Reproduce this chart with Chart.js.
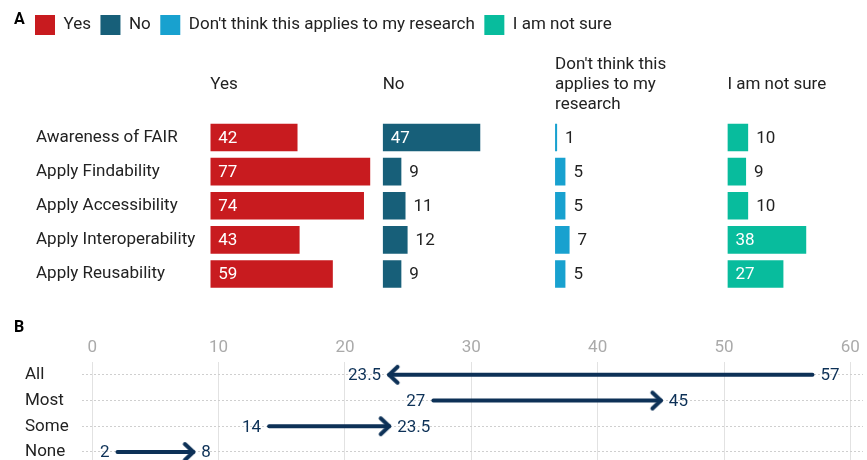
<!DOCTYPE html>
<html>
<head>
<meta charset="utf-8">
<script src="https://cdn.jsdelivr.net/npm/chart.js@4.4.1/dist/chart.umd.min.js"></script>
<style>
    html, body { margin: 0; padding: 0; background: #fff; }
    #page { position: relative; width: 867px; height: 460px; overflow: hidden; }
    #chartA { position: absolute; left: 0; top: 0; }
    #chartB { position: absolute; left: 0; top: 310px; }
</style>
</head>
<body>
<div id="page">
    <canvas id="chartA" width="867" height="310"></canvas>
    <canvas id="chartB" width="867" height="165"></canvas>
</div>
<script>
// panel A data
const rowsA = ['Awareness of FAIR', 'Apply Findability', 'Apply Accessibility', 'Apply Interoperability', 'Apply Reusability'];
const seriesNames = ['Yes', 'No', "Don't think this applies to my research", 'I am not sure'];
const panelTitles = [['Yes'], ['No'], ["Don't think this", 'applies to my', 'research'], ['I am not sure']];
const yesValues = [42, 77, 74, 43, 59];
const noValues = [47, 9, 11, 12, 9];
const notApplyValues = [1, 5, 5, 7, 5];
const notSureValues = [10, 9, 10, 38, 27];

// panel B data
const rowsB = ['All', 'Most', 'Some', 'None'];
const fromB = [57, 27, 14, 2];
const toB = [23.5, 45, 23.5, 8];
const ticksB = [0, 10, 20, 30, 40, 50, 60];

const colors = ['#c81b1f', '#175f79', '#18a1cf', '#08bc9d'];
const navy = '#0d3157';
const textColor = '#222';
const fontSize = 17;

Chart.defaults.font.family = 'Roboto, "Noto Sans", sans-serif';
Chart.defaults.font.size = fontSize;
Chart.defaults.color = textColor;

const panelLetter = {
    id: 'panelLetter',
    afterDraw(chart, args, opts) {
        const c = chart.ctx;
        c.save();
        c.font = 'bold 16px Roboto, sans-serif';
        c.fillStyle = '#000';
        c.textBaseline = 'alphabetic';
        c.fillText(opts.text, opts.x, opts.y);
        c.restore();
    },
};

// value labels: inside the bar in white when it is wide enough, otherwise after it
const barValues = {
    id: 'barValues',
    afterDatasetsDraw(chart) {
        const c = chart.ctx;
        c.save();
        c.font = fontSize + 'px Roboto, sans-serif';
        c.textBaseline = 'middle';
        c.textAlign = 'left';
        chart.data.datasets.forEach((ds, i) => {
            chart.getDatasetMeta(i).data.forEach((bar, j) => {
                const v = ds.data[j];
                if (v >= 20) {
                    c.fillStyle = '#fff';
                    c.fillText(v, bar.base + 8, bar.y + 1);
                } else {
                    c.fillStyle = textColor;
                    c.fillText(v, bar.x + 8, bar.y + 1);
                }
            });
        });
        c.restore();
    },
};

const panelValues = [yesValues, noValues, notApplyValues, notSureValues];
const panelMax = [83, 83, 83, 67.3];
const panelWeight = [172, 172, 172, 139.3];

const scalesA = {
    ypad: {
        type: 'linear',
        position: 'left',
        weight: 10,
        ticks: { display: false },
        grid: { display: false, drawTicks: false },
        border: { display: false },
        afterFit(s) { s.width = 10.5; },
    },
    y: {
        type: 'category',
        position: 'left',
        offset: true,
        ticks: { crossAlign: 'far', color: textColor, padding: 0 },
        grid: { display: false, drawTicks: false },
        border: { display: false },
        afterFit(s) { s.width = 174.3; },
    },
};

panelTitles.forEach((title, i) => {
    scalesA['x' + i] = {
        type: 'linear',
        position: 'top',
        stack: 'panels',
        stackWeight: panelWeight[i],
        weight: 3 - i,
        min: 0,
        max: panelMax[i],
        ticks: { display: false },
        grid: { display: false, drawTicks: false },
        border: { display: false },
        title: {
            display: true,
            text: title,
            align: 'start',
            color: textColor,
            font: { size: fontSize, lineHeight: 20 / fontSize },
            padding: { top: title.length > 1 ? 10 : 30, bottom: 15.5 },
        },
    };
});

new Chart(document.getElementById('chartA'), {
    type: 'bar',
    data: {
        labels: rowsA,
        datasets: panelValues.map((values, i) => ({
            label: seriesNames[i],
            data: values,
            xAxisID: 'x' + i,
            yAxisID: 'y',
            backgroundColor: colors[i],
            barPercentage: 0.81,
            categoryPercentage: 1,
            grouped: false,
        })),
    },
    options: {
        indexAxis: 'y',
        responsive: false,
        animation: false,
        events: [],
        layout: { padding: { left: 25.5, top: 5.5, right: 0, bottom: 19 } },
        scales: scalesA,
        plugins: {
            legend: {
                position: 'top',
                align: 'start',
                labels: {
                    boxWidth: 20,
                    boxHeight: 20,
                    padding: 9.5,
                    color: textColor,
                    font: { size: fontSize },
                },
            },
            tooltip: { enabled: false },
            panelLetter: { text: 'A', x: 14, y: 23.5 },
        },
    },
    plugins: [panelLetter, barValues],
});

// chevron used as the arrow head
const head = document.createElement('canvas');
head.width = 28;
head.height = 28;
(() => {
    const h = head.getContext('2d');
    h.strokeStyle = navy;
    h.lineWidth = 4;
    h.lineCap = 'round';
    h.lineJoin = 'round';
    h.beginPath();
    h.moveTo(5.5, 6);
    h.lineTo(14, 14);
    h.lineTo(5.5, 22);
    h.stroke();
})();

const arrowLabels = {
    id: 'arrowLabels',
    afterDatasetsDraw(chart) {
        const c = chart.ctx;
        c.save();
        c.font = fontSize + 'px Roboto, sans-serif';
        c.fillStyle = navy;
        c.textBaseline = 'middle';
        chart.data.datasets.forEach((ds, i) => {
            const [p0, p1] = chart.getDatasetMeta(i).data;
            const dir = ds.data[1].x >= ds.data[0].x ? 1 : -1;
            c.textAlign = dir > 0 ? 'right' : 'left';
            c.fillText(ds.data[0].x, p0.x - dir * 8, p0.y + 1);
            c.textAlign = dir > 0 ? 'left' : 'right';
            c.fillText(ds.data[1].x, p1.x + dir * 8, p1.y + 1);
        });
        c.restore();
    },
};

new Chart(document.getElementById('chartB'), {
    type: 'line',
    data: {
        labels: rowsB,
        datasets: rowsB.map((row, i) => ({
            label: row,
            data: [{ x: fromB[i], y: row }, { x: toB[i], y: row }],
            borderColor: navy,
            borderWidth: 4,
            borderCapStyle: 'round',
            pointRadius: ctx => (ctx.dataIndex === 1 ? 1 : 0),
            pointStyle: ctx => (ctx.dataIndex === 1 ? head : 'circle'),
            pointRotation: toB[i] < fromB[i] ? 180 : 0,
            pointBackgroundColor: navy,
            pointBorderWidth: 0,
        })),
    },
    options: {
        responsive: false,
        animation: false,
        events: [],
        layout: { padding: { left: 25, top: 23, right: 0, bottom: 0 } },
        scales: {
            x: {
                type: 'linear',
                position: 'top',
                min: -0.81,
                max: 61,
                afterBuildTicks(s) { s.ticks = ticksB.map(v => ({ value: v })); },
                ticks: { color: '#aaa', padding: 4 },
                grid: { color: '#e2e2e2', lineWidth: 1, drawTicks: false },
                border: { display: false },
                afterFit(s) { s.height = 29; },
            },
            y: {
                type: 'category',
                offset: true,
                ticks: { crossAlign: 'far', color: textColor, padding: 0 },
                grid: { color: '#cfcfcf', lineWidth: 1, drawTicks: false },
                border: { display: false, dash: [2, 2] },
                afterFit(s) { s.width = 57; },
            },
        },
        plugins: {
            legend: { display: false },
            tooltip: { enabled: false },
            panelLetter: { text: 'B', x: 14, y: 21.7 },
        },
    },
    plugins: [panelLetter, arrowLabels],
});
</script>
</body>
</html>
